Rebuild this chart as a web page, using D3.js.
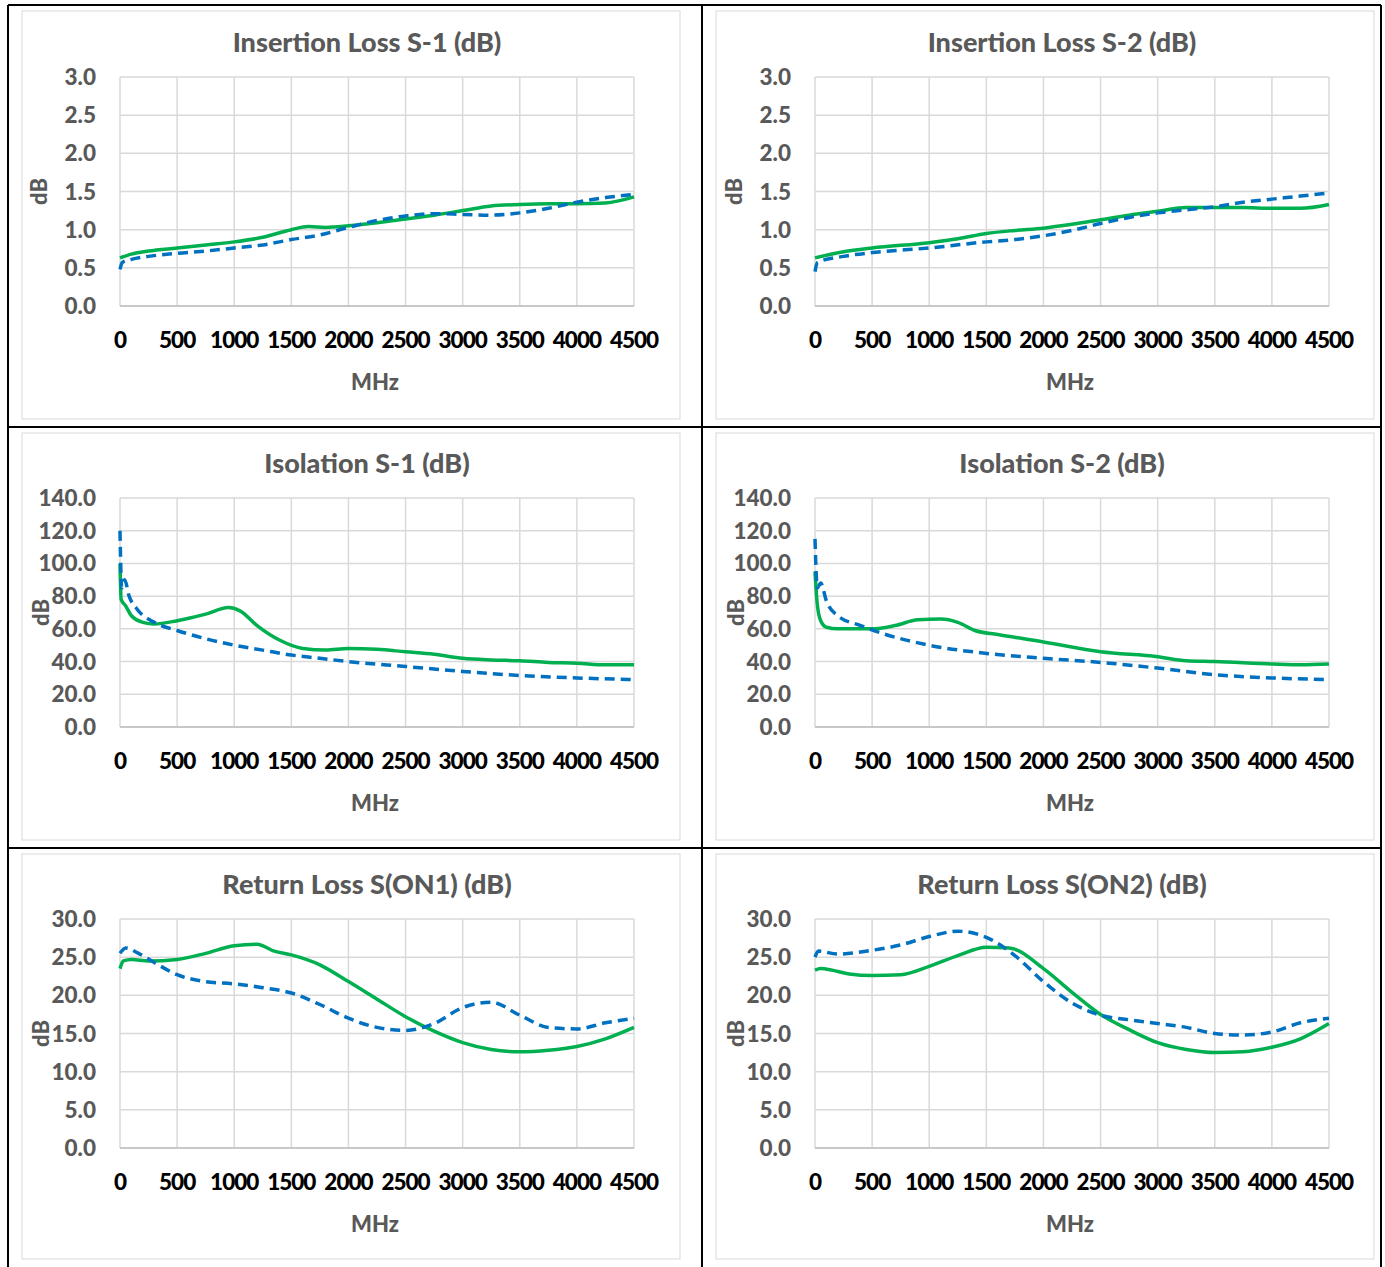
<!DOCTYPE html>
<html><head><meta charset="utf-8">
<script src="https://cdn.jsdelivr.net/npm/d3@7"></script>
<style>body{margin:0;background:#fff}text{font-family:Lato,"Open Sans",sans-serif;font-weight:900}</style>
</head><body>
<script>
// frequency points (MHz) and values (dB)
var il1F = [0,100,250,500,750,1000,1250,1500,1650,1800,2000,2250,2500,2750,3000,3250,3500,3750,4000,4250,4500];
var il1G = [0.63,0.68,0.72,0.76,0.80,0.84,0.90,1.00,1.04,1.03,1.05,1.09,1.14,1.19,1.25,1.31,1.33,1.34,1.34,1.35,1.43];
var il1bF = [0,20,100,250,500,750,1000,1250,1500,1750,2000,2250,2500,2750,3000,3250,3500,3750,4000,4250,4500];
var il1B = [0.48,0.57,0.61,0.65,0.69,0.72,0.76,0.80,0.87,0.93,1.03,1.12,1.18,1.21,1.20,1.19,1.22,1.28,1.36,1.42,1.46];

var il2F = [0,250,500,1000,1250,1500,1750,2000,2250,2500,2750,3000,3250,3500,3750,4000,4250,4500];
var il2G = [0.63,0.71,0.76,0.83,0.88,0.95,0.99,1.02,1.07,1.13,1.19,1.24,1.29,1.29,1.29,1.28,1.28,1.33];
var il2bF = [0,20,250,500,1000,1500,1750,2000,2250,2500,2750,3000,3250,3500,3750,4000,4250,4500];
var il2B = [0.45,0.57,0.65,0.70,0.76,0.84,0.87,0.92,0.99,1.08,1.16,1.22,1.26,1.30,1.36,1.40,1.44,1.48];

var is1F = [0,10,50,100,200,300,500,750,950,1050,1200,1400,1600,1800,2000,2250,2500,2750,3000,3250,3500,3750,4000,4250,4500];
var is1G = [100,78,74,68,64,63,65,69,73,71,62,53,48,47,48,47.5,46,44.5,42,41,40.5,39.5,39,38,38];
var is1bF = [0,15,40,80,150,300,500,750,1000,1250,1500,1750,2000,2500,3000,3500,4000,4500];
var is1B = [120,85,90,80,72,64,59,54,50,47,44,42,40,37,34,31.5,30,29];

var is2F = [0,20,50,100,200,500,700,900,1100,1250,1400,1600,2000,2500,3000,3250,3500,4000,4250,4500];
var is2G = [95,75,65,61,60,60,62,65.5,66,64,59,56.5,52,46,43,40.5,40,38.5,38,38.5];
var is2bF = [0,20,50,100,200,400,600,1000,1500,2000,2500,3000,3500,4000,4500];
var is2B = [115,85,88,77,68,62,57,50,45,42,39.5,36,32,30,29];

var rl1F = [0,30,100,250,500,750,1000,1200,1350,1500,1750,2000,2250,2500,2750,3000,3250,3500,3750,4000,4250,4500];
var rl1G = [23.5,24.5,24.7,24.5,24.7,25.5,26.5,26.7,25.8,25.3,24,21.8,19.5,17.2,15.3,13.8,12.9,12.6,12.8,13.3,14.3,15.8];
var rl1bF = [0,50,150,300,500,750,1000,1250,1500,1750,2000,2250,2500,2750,3000,3250,3500,3750,4000,4250,4500];
var rl1B = [25.5,26.2,25.6,24.3,22.7,21.8,21.5,21.0,20.3,18.8,17.0,15.8,15.4,16.3,18.4,19.1,17.4,15.8,15.6,16.4,17.0];

var rl2F = [0,50,150,300,500,750,1000,1250,1500,1700,2000,2250,2500,2750,3000,3250,3500,3750,4000,4250,4500];
var rl2G = [23.3,23.5,23.3,22.8,22.6,22.7,23.8,25.2,26.3,26.2,23.5,20.4,17.5,15.5,13.8,12.9,12.5,12.6,13.2,14.3,16.3];
var rl2bF = [0,30,200,500,750,1000,1250,1500,1750,2000,2250,2500,2750,3000,3250,3500,3750,4000,4250,4500];
var rl2B = [25,25.8,25.4,25.9,26.6,27.7,28.4,27.6,25.2,21.8,19.0,17.4,16.8,16.3,15.8,15.0,14.8,15.2,16.4,17.0];

var xTicks = [0,500,1000,1500,2000,2500,3000,3500,4000,4500];

var panels = [
  {title:"Insertion Loss S-1 (dB)", gF:il1F, g:il1G, bF:il1bF, b:il1B, max:3, step:0.5},
  {title:"Insertion Loss S-2 (dB)", gF:il2F, g:il2G, bF:il2bF, b:il2B, max:3, step:0.5},
  {title:"Isolation S-1 (dB)", gF:is1F, g:is1G, bF:is1bF, b:is1B, max:140, step:20},
  {title:"Isolation S-2 (dB)", gF:is2F, g:is2G, bF:is2bF, b:is2B, max:140, step:20},
  {title:"Return Loss S(ON1) (dB)", gF:rl1F, g:rl1G, bF:rl1bF, b:rl1B, max:30, step:5},
  {title:"Return Loss S(ON2) (dB)", gF:rl2F, g:rl2G, bF:rl2bF, b:rl2B, max:30, step:5}
];

var svg = d3.select("body").append("svg").attr("width",1385).attr("height",1267);

var colX = [8,702];
var rowY = [5,427,848], rowH = [422,421,419];

panels.forEach(function(p,i){
  var c = i%2, r = Math.floor(i/2);
  var ox = colX[c], oy = rowY[r];
  var g = svg.append("g").attr("transform","translate("+ox+","+oy+")");
  g.append("rect").attr("x",14).attr("y",6).attr("width",658).attr("height",rowH[r]-14)
    .attr("fill","#fff").attr("stroke","#d9d9d9");
  var left = c ? 113 : 112, plotW = 514;
  var top = r==0 ? 72 : 71, plotH = 229;
  var x = d3.scaleLinear().domain([0,4500]).range([left,left+plotW]);
  var y = d3.scaleLinear().domain([0,p.max]).range([top+plotH,top]);
  var yT = d3.range(0,p.max+p.step/2,p.step);
  g.selectAll(".hg").data(yT).enter().append("line")
    .attr("x1",x(0)).attr("x2",x(4500)).attr("y1",d=>y(d)).attr("y2",d=>y(d)).attr("stroke","#d9d9d9").attr("stroke-width",1.5);
  g.selectAll(".vg").data(xTicks).enter().append("line")
    .attr("x1",d=>x(d)).attr("x2",d=>x(d)).attr("y1",y(0)).attr("y2",y(p.max)).attr("stroke","#d9d9d9").attr("stroke-width",1.5);
  g.append("line").attr("x1",x(0)).attr("x2",x(4500)).attr("y1",y(0)).attr("y2",y(0)).attr("stroke","#bfbfbf").attr("stroke-width",1.5);
  g.selectAll(".yl").data(yT).enter().append("text")
    .attr("x",left-24).attr("y",d=>y(d)+8).attr("text-anchor","end").attr("font-size",22.5).attr("fill","#595959")
    .text(d=>d.toFixed(1));
  g.selectAll(".xl").data(xTicks).enter().append("text")
    .attr("x",d=>x(d)).attr("y",top+plotH+42).attr("text-anchor","middle").attr("font-size",22.5).attr("fill","#000")
    .attr("letter-spacing","-1").text(d=>d);
  g.append("text").attr("x",left+plotW/2-2).attr("y",top+plotH+84).attr("text-anchor","middle")
    .attr("font-size",22).attr("fill","#595959").text("MHz");
  g.append("text").attr("x",left+plotW/2-10).attr("y",top-25).attr("text-anchor","middle")
    .attr("font-size",27).attr("fill","#595959").text(p.title);
  g.append("text").attr("transform","translate("+(left-73+(r?2:0))+","+(top+plotH/2)+") rotate(-90)")
    .attr("text-anchor","middle").attr("font-size",22).attr("fill","#595959").text("dB");
  var line = d3.line().curve(d3.curveMonotoneX);
  g.append("path").attr("d",line(p.gF.map((f,k)=>[x(f),y(p.g[k])])))
    .attr("fill","none").attr("stroke","#00b050").attr("stroke-width",3.5);
  g.append("path").attr("d",line(p.bF.map((f,k)=>[x(f),y(p.b[k])])))
    .attr("fill","none").attr("stroke","#0070c0").attr("stroke-width",3.5).attr("stroke-dasharray","10,6");
});

// black table lines
var bl = svg.append("g").attr("stroke","#000").attr("stroke-width",2);
[8,702,1381].forEach(function(v){ bl.append("line").attr("x1",v).attr("x2",v).attr("y1",5).attr("y2",1267); });
[5,427,848].forEach(function(v){ bl.append("line").attr("x1",8).attr("x2",1381).attr("y1",v).attr("y2",v); });
</script>
</body></html>
